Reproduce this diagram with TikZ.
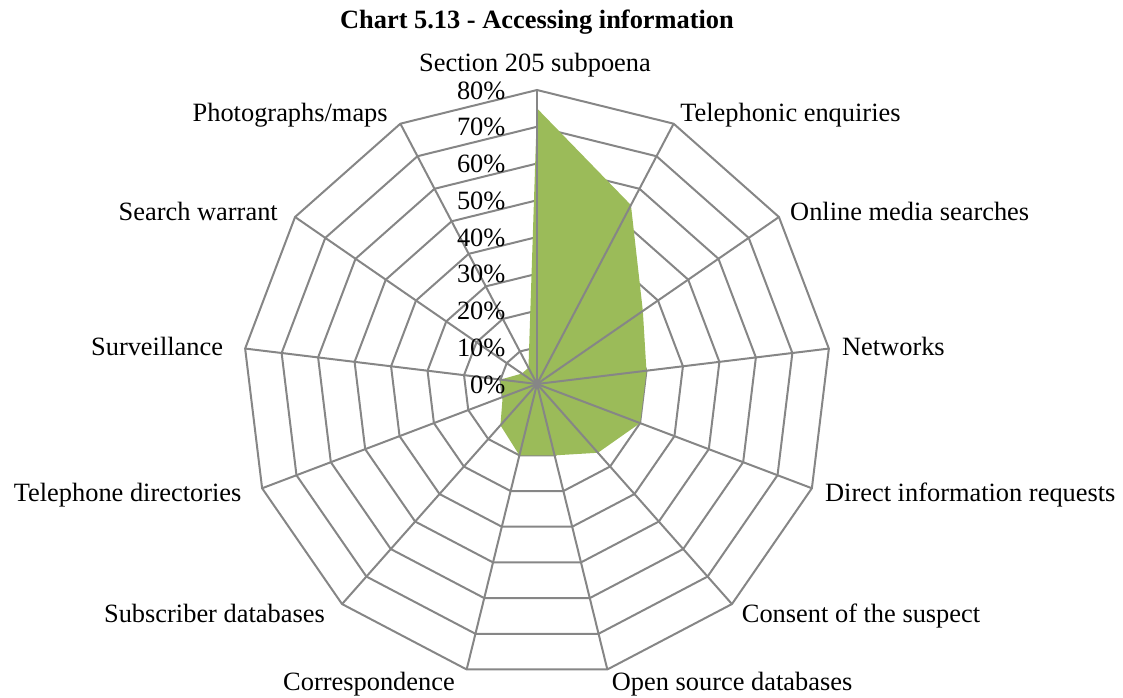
\documentclass[tikz,border=0pt]{standalone}
\usepackage{fontspec}
\setmainfont{Liberation Serif}
\usepackage{tikz}

\definecolor{gridgray}{RGB}{134,134,134}
\definecolor{areagreen}{RGB}{155,187,89}

\begin{document}
\begin{tikzpicture}[x=0.75pt, y=0.75pt,
    gridline/.style={draw=gridgray, line width=1.5pt},
    catlabel/.style={inner sep=0pt, font=\fontsize{19.8}{24}\selectfont},
    ticklabel/.style={catlabel, anchor=base east}]
  \useasboundingbox (-537,-313) rectangle (586,384);
  \node[catlabel, font=\fontsize{19.8}{24}\selectfont\bfseries, anchor=base] (title) at (0,355) {Chart 5.13 - Accessing information};
  % rings 10% ... 80%
  \foreach \r in {1,...,8}
    \draw[gridline] (90:36.75*\r) \foreach \k in {1,...,12} { -- (90-\k*360/13:36.75*\r) } -- cycle;
  % data area
  \fill[areagreen] (90:75*3.675) \foreach \v [count=\k] in {55,35,30,30,25,20,20,15,10,10,5,5} { -- (90-\k*360/13:\v*3.675) } -- cycle;
  % spokes
  \coordinate (c) at (0,0);
  \foreach \k in {0,...,12}
    \coordinate (o\k) at (90-\k*360/13:294);
  \foreach \k in {0,...,12}
    \draw[gridline] (c) -- (o\k);
  % axis values
  \foreach \p in {0,...,8} {
    \pgfmathtruncatemacro\pct{10*\p}
    \node[ticklabel] (t\p) at (-31.3,36.75*\p-9) {\pct\%};
  }
  % categories
  \node[catlabel, anchor=base] (c0) at ([shift={(-2,18)}]o0) {Section 205 subpoena};
  \node[catlabel, anchor=base west] (c1) at ([shift={(6.4,1.7)}]o1) {Telephonic enquiries};
  \node[catlabel, anchor=base west] (c2) at ([shift={(11,-3)}]o2) {Online media searches};
  \node[catlabel, anchor=base west] (c3) at ([shift={(13,-7)}]o3) {Networks};
  \node[catlabel, anchor=base west] (c4) at ([shift={(13,-13.4)}]o4) {Direct information requests};
  \node[catlabel, anchor=base west] (c5) at ([shift={(9.7,-18)}]o5) {Consent of the suspect};
  \node[catlabel, anchor=base west] (c6) at ([shift={(4.3,-20.6)}]o6) {Open source databases};
  \node[catlabel, anchor=base east] (c7) at ([shift={(-11.6,-20.6)}]o7) {Correspondence};
  \node[catlabel, anchor=base east] (c8) at ([shift={(-17,-18)}]o8) {Subscriber databases};
  \node[catlabel, anchor=base east] (c9) at ([shift={(-20.4,-13.4)}]o9) {Telephone directories};
  \node[catlabel, anchor=base east] (c10) at ([shift={(-21.8,-7)}]o10) {Surveillance};
  \node[catlabel, anchor=base east] (c11) at ([shift={(-17,-3)}]o11) {Search warrant};
  \node[catlabel, anchor=base east] (c12) at ([shift={(-12.4,1.7)}]o12) {Photographs/maps};
\end{tikzpicture}
\end{document}
